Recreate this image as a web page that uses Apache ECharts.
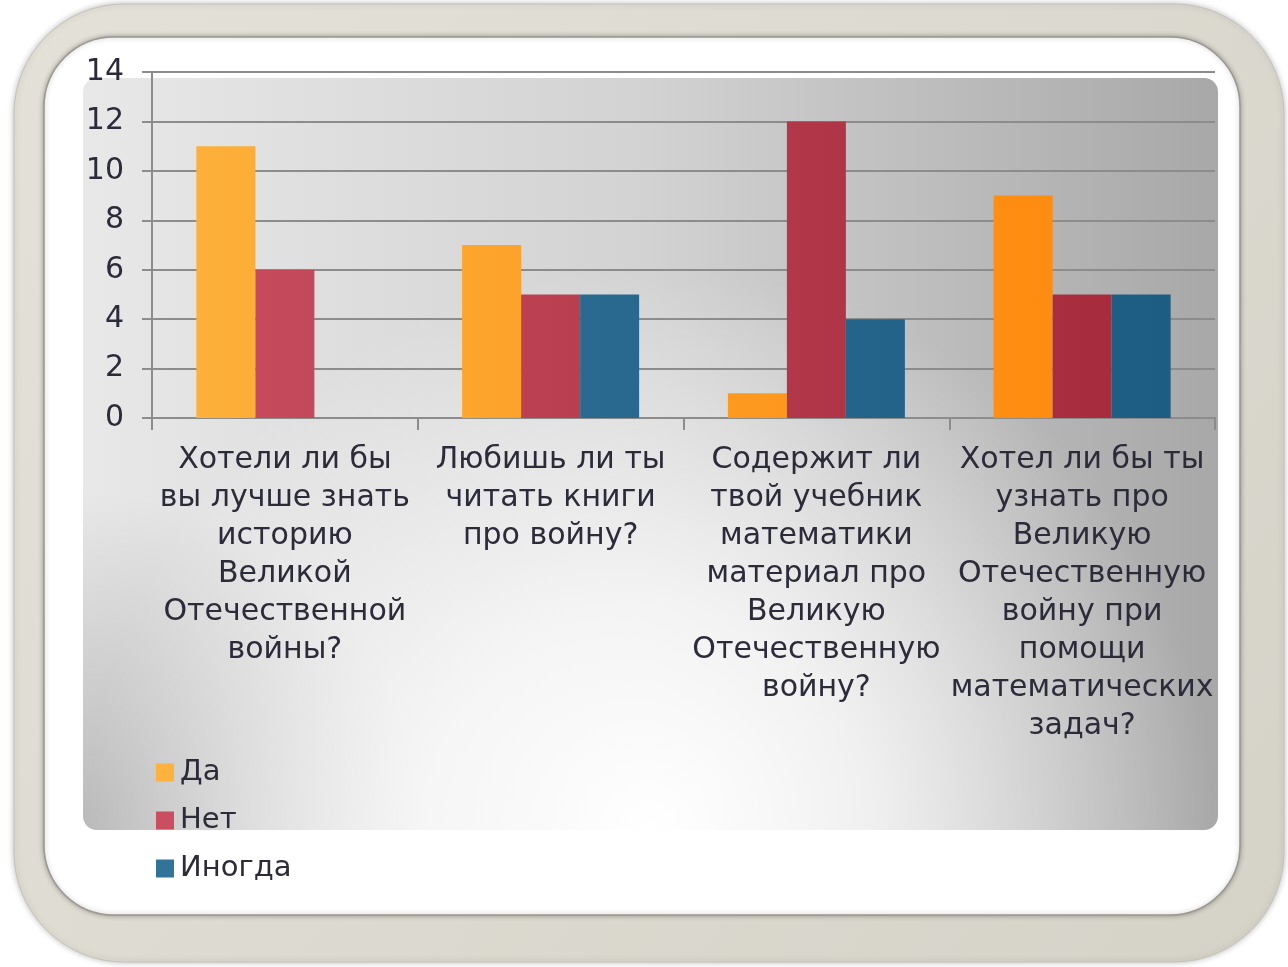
<!DOCTYPE html>
<html><head><meta charset="utf-8">
<script src="https://cdn.jsdelivr.net/npm/echarts@6/dist/echarts.min.js"></script>
<style>html,body{margin:0;padding:0;background:#fff}#c{width:1288px;height:967px}</style>
</head><body><div id="c"></div>
<script>
const categories = [
  'Хотели ли бы\nвы лучше знать\nисторию\nВеликой\nОтечественной\nвойны?',
  'Любишь ли ты\nчитать книги\nпро войну?',
  'Содержит ли\nтвой учебник\nматематики\nматериал про\nВеликую\nОтечественную\nвойну?',
  'Хотел ли бы ты\nузнать про\nВеликую\nОтечественную\nвойну при\nпомощи\nматематических\nзадач?'
];
const seriesNames = ['Да', 'Нет', 'Иногда'];
const yesValues = [11, 7, 1, 9];
const noValues = [6, 5, 12, 5];
const sometimesValues = [null, 5, 4, 5];

const chart = echarts.init(document.getElementById('c'));
const font = 'DejaVu Sans';
function grad(c1, c2) {
  return new echarts.graphic.LinearGradient(152, 0, 1215, 0, [{offset:0,color:c1},{offset:1,color:c2}], true);
}
const panel = {x:83, y:78, width:1135, height:752, r:14};
chart.setOption({
  animation: false,
  graphic: [
    {type:'rect', z:-10, shape:{x:14,y:4,width:1270,height:958,r:110},
     style:{fill:new echarts.graphic.LinearGradient(0,0,1,1,[{offset:0,color:'#e4e1d9'},{offset:1,color:'#d5d2c8'}]), stroke:'#c4c1b7', lineWidth:1, shadowBlur:6, shadowColor:'rgba(0,0,0,0.25)'}},
    {type:'rect', z:-9, shape:{x:44,y:37,width:1196,height:878,r:70},
     style:{fill:'#ffffff', stroke:'#9b988f', lineWidth:1.5, shadowBlur:5, shadowColor:'rgba(0,0,0,0.3)'}},
    {type:'rect', z:-8, shape:panel,
     style:{fill:new echarts.graphic.LinearGradient(0,0,1,0,[{offset:0,color:'#e8e8e8'},{offset:0.5,color:'#d2d2d2'},{offset:1,color:'#a8a8a8'}])}},
    {type:'rect', z:-7, shape:panel,
     style:{fill:new echarts.graphic.RadialGradient(0,1,0.45,[{offset:0,color:'rgba(0,0,0,0.2)'},{offset:1,color:'rgba(0,0,0,0)'}])}},
    {type:'rect', z:-6, shape:panel,
     style:{fill:new echarts.graphic.RadialGradient(0.5,1,0.75,[{offset:0,color:'rgba(255,255,255,1)'},{offset:0.4,color:'rgba(255,255,255,0.75)'},{offset:1,color:'rgba(255,255,255,0)'}])}}
  ],
  grid: {left:152, right:73, top:72, bottom:549, containLabel:false},
  legend: {
    data: seriesNames, orient:'vertical', left:151, top:753,
    itemWidth:18, itemHeight:18, itemGap:19, icon:'rect',
    textStyle:{fontFamily:font, fontSize:29, color:'#2b2b3a', padding:[0,0,0,1]}
  },
  xAxis: {
    type:'category', data:categories,
    axisLine:{show:true, lineStyle:{color:'#8c8c8c', width:2}},
    axisTick:{show:true, length:12, lineStyle:{color:'#8c8c8c', width:2}},
    axisLabel:{interval:0, fontFamily:font, fontSize:30, lineHeight:38, color:'#2b2b3a', margin:23, align:'center'}
  },
  yAxis: {
    type:'value', min:0, max:14, interval:2,
    axisLine:{show:true, lineStyle:{color:'#8c8c8c', width:2}},
    axisTick:{show:true, length:10, lineStyle:{color:'#8c8c8c', width:2}},
    splitLine:{lineStyle:{color:'#8c8c8c', width:2}},
    axisLabel:{fontFamily:font, fontSize:30, color:'#2b2b3a', margin:28}
  },
  series: [
    {name:seriesNames[0], type:'bar', data:yesValues, barWidth:59, barGap:'0%', barCategoryGap:'33%',
     itemStyle:{color:grad('#fcb23c','#ff8508')}},
    {name:seriesNames[1], type:'bar', data:noValues, barWidth:59,
     itemStyle:{color:grad('#c94e5f','#a2283a')}},
    {name:seriesNames[2], type:'bar', data:sometimesValues, barWidth:59,
     itemStyle:{color:grad('#327399','#1d5c82')}}
  ]
});
</script></body></html>
